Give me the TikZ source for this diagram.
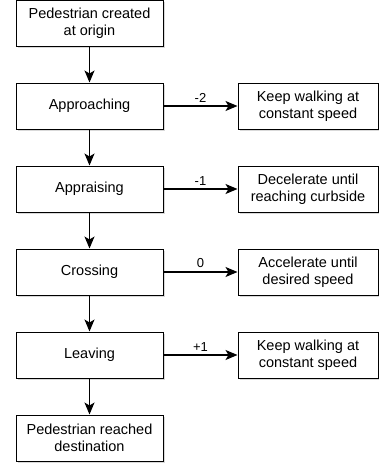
\documentclass[tikz,border=0pt]{standalone}
\usepackage{fontspec}
\setmainfont{Liberation Sans}
\usetikzlibrary{positioning,arrows.meta,shadows}
\begin{document}
\begin{tikzpicture}[
  x=1pt, y=1pt,
  node distance=36pt and 74pt,
  every node/.style={font=\fontsize{14.5}{17}\selectfont, align=center},
  stateBox/.style={rectangle, draw, line width=1pt, fill=white, minimum width=147pt, minimum height=46pt, inner sep=2pt,
    drop shadow={shadow xshift=2pt, shadow yshift=-2pt, opacity=0.3}},
  actionBox/.style={stateBox, minimum width=140pt},
  flow/.style={draw, line width=1.1pt, -{Stealth[length=12pt, width=10pt, inset=3pt]}},
  weight/.style={above, font=\fontsize{13}{15}\selectfont}
  ]
  \useasboundingbox (0,0) rectangle (379,-466);
  % states of the pedestrian
  \node[stateBox] (origin) at (89.5,-23) {Pedestrian created\\at origin};
  \node[stateBox, below=of origin] (approach) {Approaching};
  \node[stateBox, below=of approach] (appraise) {Appraising};
  \node[stateBox, below=of appraise] (cross) {Crossing};
  \node[stateBox, below=of cross] (leave) {Leaving};
  \node[stateBox, below=of leave] (dest) {Pedestrian reached\\destination};
  % actions
  \node[actionBox, right=of approach] (keepA) {Keep walking at\\constant speed};
  \node[actionBox, right=of appraise] (decel) {Decelerate until\\reaching curbside};
  \node[actionBox, right=of cross] (accel) {Accelerate until\\desired speed};
  \node[actionBox, right=of leave] (keepB) {Keep walking at\\constant speed};
  % flow
  \draw[flow] (origin) -- (approach);
  \draw[flow] (approach) -- (appraise);
  \draw[flow] (appraise) -- (cross);
  \draw[flow] (cross) -- (leave);
  \draw[flow] (leave) -- (dest);
  \draw[flow] (approach) -- node[weight] {-2} (keepA);
  \draw[flow] (appraise) -- node[weight] {-1} (decel);
  \draw[flow] (cross) -- node[weight] {0} (accel);
  \draw[flow] (leave) -- node[weight] {+1} (keepB);
\end{tikzpicture}
\end{document}
